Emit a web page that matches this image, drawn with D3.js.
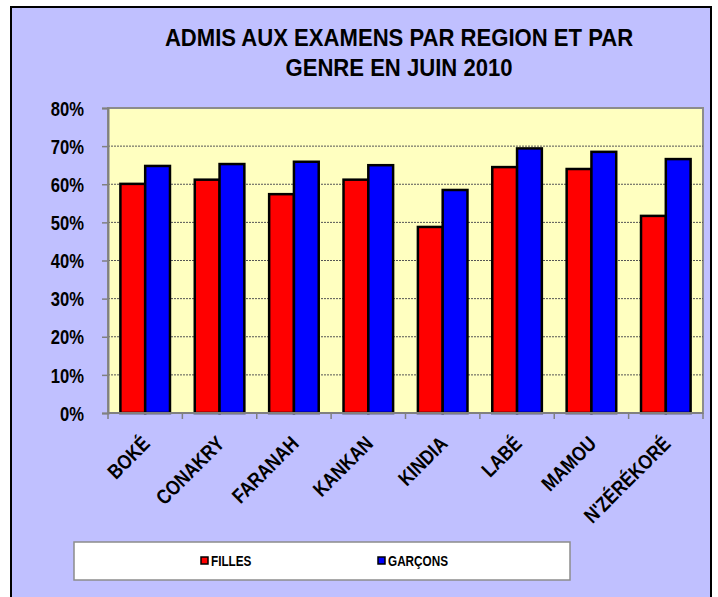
<!DOCTYPE html>
<html lang="fr">
<head>
    <meta charset="UTF-8">
    <title>Admis aux examens par région et par genre</title>
    <script src="https://d3js.org/d3.v7.min.js"></script>
    <style>
        body {
            margin: 0;
            background: #ffffff;
        }
        svg text {
            font-family: "Liberation Sans Narrow", "Arial Narrow", "Liberation Sans", Arial, sans-serif;
            font-weight: bold;
            fill: #000;
        }
    </style>
</head>
<body>
    <svg id="chart" width="718" height="597"></svg>
    <script>
        // donnees (taux d'admission, %)
        const regions = ["BOKÉ", "CONAKRY", "FARANAH", "KANKAN", "KINDIA", "LABÉ", "MAMOU", "N'ZÉRÉKORÉ"];
        const filles = [60.1, 61.2, 57.4, 61.2, 48.8, 64.5, 64.0, 51.7];
        const garcons = [64.8, 65.3, 65.9, 65.0, 58.5, 69.4, 68.5, 66.6];
        const seriesNames = ["FILLES", "GARÇONS"];
        const seriesColors = ["#ff0000", "#0000ff"];
        const yTicks = [0, 10, 20, 30, 40, 50, 60, 70, 80];
        const titleLines = ["ADMIS AUX EXAMENS PAR REGION ET PAR", "GENRE EN JUIN 2010"];

        const svg = d3.select("#chart");

        // police étroite absente : on resserre le texte horizontalement
        const narrow = 0.83;

        // fond du graphique
        svg.append("rect")
            .attr("x", 11).attr("y", 7)
            .attr("width", 700).attr("height", 600)
            .attr("fill", "#c0c0ff")
            .attr("stroke", "#000")
            .attr("stroke-width", 2);

        const plot = { left: 108, right: 703, top: 108, bottom: 413 };

        const x = d3.scaleBand()
            .domain(regions)
            .range([plot.left, plot.right])
            .padding(0);

        const step = x.step();
        const xSub = d3.scaleBand()
            .domain(seriesNames)
            .range([step / 6, step * 5 / 6])
            .padding(0);

        const y = d3.scaleLinear()
            .domain([0, 80])
            .range([plot.bottom, plot.top]);

        // zone de tracé
        svg.append("rect")
            .attr("x", plot.left).attr("y", plot.top)
            .attr("width", plot.right - plot.left)
            .attr("height", plot.bottom - plot.top)
            .attr("fill", "#ffffc0")
            .attr("stroke", "#8c8c8c")
            .attr("stroke-width", 2);

        // quadrillage
        svg.append("g")
            .selectAll("line")
            .data(yTicks.filter(t => t > 0 && t < 80))
            .enter().append("line")
            .attr("x1", plot.left).attr("x2", plot.right)
            .attr("y1", d => y(d)).attr("y2", d => y(d))
            .attr("stroke", "#555")
            .attr("stroke-width", 1)
            .attr("stroke-dasharray", "2,1");

        // axe Y
        const yAxis = svg.append("g")
            .attr("transform", `translate(${plot.left},0)`)
            .call(d3.axisLeft(y).tickValues(yTicks).tickFormat(d => d + "%").tickSize(6));
        yAxis.select(".domain").attr("stroke", "#808080").attr("stroke-width", 2);
        yAxis.selectAll(".tick line").attr("stroke", "#808080").attr("stroke-width", 1.5);
        yAxis.selectAll(".tick text")
            .attr("x", null)
            .attr("dy", "0.36em")
            .attr("transform", `translate(-24,0) scale(${narrow},1)`)
            .style("font-size", "20px");

        // barres
        const data = regions.map((r, i) => ({ region: r, values: [filles[i], garcons[i]] }));

        const groups = svg.append("g")
            .selectAll("g")
            .data(data)
            .enter().append("g")
            .attr("transform", d => `translate(${x(d.region)},0)`);

        groups.selectAll("rect")
            .data(d => d.values.map((v, j) => ({ key: seriesNames[j], value: v, color: seriesColors[j] })))
            .enter().append("rect")
            .attr("x", d => xSub(d.key))
            .attr("y", d => y(d.value))
            .attr("width", xSub.bandwidth())
            .attr("height", d => y(0) - y(d.value))
            .attr("fill", d => d.color)
            .attr("stroke", "#000")
            .attr("stroke-width", 2.5);

        // axe X
        const xAxis = svg.append("g")
            .attr("transform", `translate(0,${plot.bottom})`);
        xAxis.append("line")
            .attr("x1", plot.left).attr("x2", plot.right)
            .attr("stroke", "#808080").attr("stroke-width", 2);
        xAxis.selectAll(".tk")
            .data(d3.range(regions.length + 1))
            .enter().append("line")
            .attr("class", "tk")
            .attr("x1", i => plot.left + i * step).attr("x2", i => plot.left + i * step)
            .attr("y1", 0).attr("y2", 6)
            .attr("stroke", "#808080").attr("stroke-width", 1.5);
        xAxis.selectAll("text")
            .data(regions)
            .enter().append("text")
            .attr("text-anchor", "end")
            .attr("transform", d => `translate(${x(d) + step / 2 + 6},32) rotate(-45) scale(0.84,1)`)
            .style("font-size", "20.5px")
            .text(d => d);

        // titre
        svg.selectAll("text.title")
            .data(titleLines)
            .enter().append("text")
            .attr("class", "title")
            .attr("text-anchor", "middle")
            .attr("transform", (d, i) => `translate(399,${46 + i * 30}) scale(0.94,1)`)
            .style("font-size", "23.5px")
            .text(d => d);

        // légende
        const legend = svg.append("g");
        legend.append("rect")
            .attr("x", 74).attr("y", 542)
            .attr("width", 496).attr("height", 38)
            .attr("fill", "#fff")
            .attr("stroke", "#8c8c8c")
            .attr("stroke-width", 1.5);
        const legendX = [201, 378];
        const items = legend.selectAll("g.item")
            .data(seriesNames)
            .enter().append("g")
            .attr("class", "item")
            .attr("transform", (d, i) => `translate(${legendX[i]},557)`);
        items.append("rect")
            .attr("width", 7).attr("height", 7)
            .attr("fill", (d, i) => seriesColors[i])
            .attr("stroke", "#000")
            .attr("stroke-width", 1.5);
        items.append("text")
            .attr("transform", "translate(10,9) scale(0.84,1)")
            .style("font-size", "14px")
            .text(d => d);
    </script>
</body>
</html>
